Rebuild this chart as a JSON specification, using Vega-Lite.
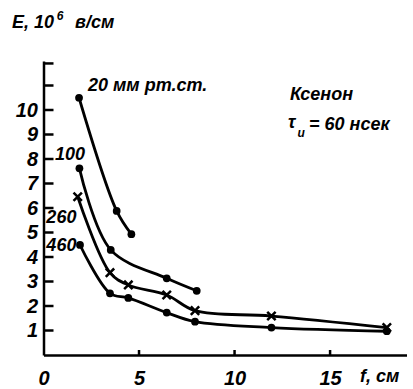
{
  "$schema": "https://vega.github.io/schema/vega-lite/v6.json",
  "autosize": "none",
  "width": 363,
  "height": 294,
  "padding": {"left": 43.5, "top": 61, "right": 6.5, "bottom": 34},
  "background": "white",
  "config": {
    "view": {"stroke": null},
    "axis": {
      "domainColor": "black", "domainWidth": 2.5, "ticks": false,
      "labelColor": "black", "labelFont": "Liberation Sans", "labelFontStyle": "italic",
      "labelFontWeight": "bold", "labelFontSize": 20, "grid": false, "title": null, "labelOverlap": false
    }
  },
  "datasets": {
    "curves": [
      {"series": "20", "f": 1.86, "E": 10.5},
      {"series": "20", "f": 3.83, "E": 5.88},
      {"series": "20", "f": 4.6, "E": 4.93},
      {"series": "100", "f": 1.88, "E": 7.62},
      {"series": "100", "f": 3.52, "E": 4.29},
      {"series": "100", "f": 6.45, "E": 3.13},
      {"series": "100", "f": 8.02, "E": 2.62},
      {"series": "260", "f": 1.79, "E": 6.46},
      {"series": "260", "f": 3.48, "E": 3.36},
      {"series": "260", "f": 4.44, "E": 2.86},
      {"series": "260", "f": 6.45, "E": 2.45},
      {"series": "260", "f": 7.93, "E": 1.81},
      {"series": "260", "f": 11.93, "E": 1.59},
      {"series": "260", "f": 17.97, "E": 1.12},
      {"series": "460", "f": 1.91, "E": 4.49},
      {"series": "460", "f": 3.48, "E": 2.52},
      {"series": "460", "f": 4.44, "E": 2.33},
      {"series": "460", "f": 6.45, "E": 1.73},
      {"series": "460", "f": 7.93, "E": 1.36},
      {"series": "460", "f": 11.93, "E": 1.12},
      {"series": "460", "f": 17.97, "E": 0.97}
    ],
    "yticks": [
      {"E": 1, "f": 0}, {"E": 2, "f": 0}, {"E": 3, "f": 0}, {"E": 4, "f": 0},
      {"E": 5, "f": 0}, {"E": 6, "f": 0}, {"E": 7, "f": 0}, {"E": 8, "f": 0},
      {"E": 9, "f": 0}, {"E": 10, "f": 0}, {"E": 11, "f": 0}, {"E": 11.9, "f": 0}
    ],
    "xticks": [
      {"f": 5, "E": 0}, {"f": 10, "E": 0}, {"f": 15, "E": 0}
    ],
    "labels": [
      {"text": "E, 10", "f": -1.65, "E": 13.57},
      {"text": "в/см", "f": 1.65, "E": 13.57},
      {"text": "20 мм рт.ст.", "f": 2.33, "E": 10.98},
      {"text": "100", "f": 0.6, "E": 8.16},
      {"text": "260", "f": 0.15, "E": 5.59},
      {"text": "460", "f": 0.15, "E": 4.45},
      {"text": "Ксенон", "f": 12.9, "E": 10.6},
      {"text": "τ", "f": 12.8, "E": 9.45},
      {"text": "= 60 нсек", "f": 13.9, "E": 9.39},
      {"text": "f, см", "f": 16.57, "E": -0.9}
    ],
    "subs": [
      {"text": "и", "f": 13.3, "E": 9.05},
      {"text": "6", "f": 0.7, "E": 13.85}
    ]
  },
  "encoding": {
    "x": {"field": "f", "type": "quantitative",
      "scale": {"domain": [0, 19], "nice": false, "zero": false},
      "axis": {"values": [0, 5, 10, 15], "labelPadding": 13, "labelFlush": false, "labelOverlap": false}},
    "y": {"field": "E", "type": "quantitative",
      "scale": {"domain": [0, 12], "nice": false},
      "axis": {"values": [1, 2, 3, 4, 5, 6, 7, 8, 9, 10], "labelPadding": 6, "labelOverlap": false, "labelFlush": false}}
  },
  "layer": [
    {
      "data": {"name": "yticks"},
      "mark": {"type": "point", "shape": "M0,0L1,0", "filled": false, "color": "black", "strokeWidth": 2.5, "size": 400, "opacity": 1, "clip": false},
      "encoding": {}
    },
    {
      "data": {"name": "xticks"},
      "mark": {"type": "point", "shape": "M0,0L0,-1", "filled": false, "color": "black", "strokeWidth": 2.5, "size": 100, "opacity": 1, "clip": false},
      "encoding": {}
    },
    {
      "data": {"name": "curves"},
      "mark": {"type": "line", "interpolate": "catmull-rom", "color": "black", "strokeWidth": 2.8},
      "encoding": {"detail": {"field": "series"}}
    },
    {
      "data": {"name": "curves"},
      "transform": [{"filter": "datum.series != '260'"}],
      "mark": {"type": "point", "shape": "circle", "filled": true, "color": "black", "size": 60, "opacity": 1},
      "encoding": {}
    },
    {
      "data": {"name": "curves"},
      "transform": [{"filter": "datum.series == '260'"}],
      "mark": {"type": "point", "shape": "M-1,-1L1,1M1,-1L-1,1", "filled": false, "color": "black", "strokeWidth": 2.5, "size": 70, "opacity": 1},
      "encoding": {}
    },
    {
      "data": {"name": "labels"},
      "mark": {"type": "text", "align": "left", "baseline": "middle", "font": "Liberation Sans", "fontStyle": "italic", "fontWeight": "bold", "fontSize": 18, "color": "black", "clip": false},
      "encoding": {"text": {"field": "text"}}
    },
    {
      "data": {"name": "subs"},
      "mark": {"type": "text", "align": "left", "baseline": "middle", "font": "Liberation Sans", "fontStyle": "italic", "fontWeight": "bold", "fontSize": 12, "color": "black"},
      "encoding": {"text": {"field": "text"}}
    }
  ]
}
